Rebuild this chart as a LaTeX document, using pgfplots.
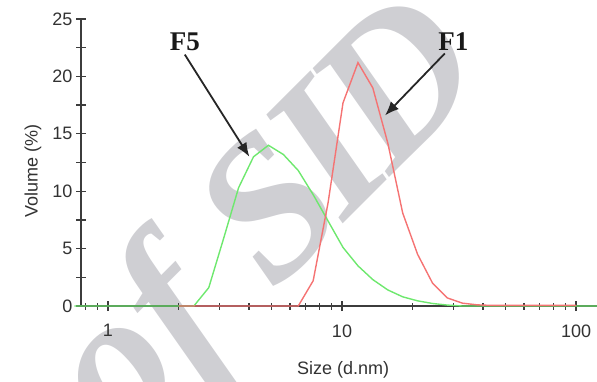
\documentclass[border=0pt]{standalone}
\usepackage{pgfplots}
\pgfplotsset{compat=1.18}
\usepackage{fontspec}
\setmainfont{Liberation Sans}
\newfontfamily\serif{Liberation Serif}
\usetikzlibrary{arrows.meta}
\definecolor{axgray}{RGB}{60,60,60}
\definecolor{txtgray}{RGB}{50,50,50}
\definecolor{wm}{RGB}{207,207,211}
\definecolor{cgreen}{RGB}{110,232,110}
\definecolor{cred}{RGB}{245,115,115}
\begin{document}
\begin{tikzpicture}
\node[text=wm, rotate=45, anchor=base, inner sep=0pt] at (226pt,46pt) {\fontsize{200}{200}\selectfont\serif\bfseries\itshape of S\kern-0.06em I\kern-0.06em D};
\begin{axis}[
  name=ax, at={(0,0)}, anchor=south west,
  scale only axis, width=516pt, height=287pt,
  xmode=log, xmin=0.767, xmax=122.9, ymin=0, ymax=25,
  axis x line=bottom, axis y line=left,
  axis line style={-, draw=axgray, line width=1.5pt},
  clip=false,
  tick align=center,
  major tick length=10pt, minor tick length=7pt,
  every tick/.style={draw=axgray, line width=1.3pt},
  xtick={1,10,100}, xticklabels={1,10,100},
  minor xtick={0.8,0.9,2,3,4,5,6,7,8,9,20,30,40,50,60,70,80,90},
  ytick={0,2.5,5,7.5,10,12.5,15,17.5,20,22.5,25},
  yticklabels={0,,5,,10,,15,,20,,25},
  /pgf/number format/assume math mode=true,
  tick label style={font=\fontsize{18}{18}\selectfont, text=txtgray},
  xticklabel style={yshift=-10pt},
  label style={font=\fontsize{18}{18}\selectfont, text=txtgray},
  xlabel={Size (d.nm)}, ylabel={Volume (\%)},
  xlabel style={at={(axis description cs:0.508,-0.222)}, anchor=center},
  ylabel style={at={(axis description cs:-0.093,0.47)}, anchor=center},
]
\addplot[cgreen, line width=1.4pt] coordinates {
(0.7195,0) (0.8332,0) (0.9649,0) (1.117,0) (1.294,0) (1.499,0) (1.736,0) (2.01,0) (2.328,0)
(2.696,1.6) (3.122,5.9) (3.615,10.3) (4.187,13.0) (4.849,14.0) (5.615,13.2) (6.503,11.8)
(7.531,9.7) (8.721,7.4) (10.10,5.1) (11.70,3.5) (13.54,2.3) (15.69,1.4) (18.17,0.8)
(21.04,0.45) (24.36,0.22) (28.21,0.08) (32.67,0) (37.84,0) (43.82,0) (50.75,0) (58.77,0)
(68.06,0) (78.82,0) (91.28,0) (105.7,0) (122.4,0) (141.8,0)};
\addplot[cred, line width=1.4pt] coordinates {
(2.01,0) (2.328,0) (2.696,0) (3.122,0) (3.615,0) (4.187,0) (4.849,0) (5.615,0) (6.503,0)
(7.531,2.2) (8.721,9.0) (10.10,17.7) (11.70,21.2) (13.54,19.0) (15.69,14.2) (18.17,8.1)
(21.04,4.5) (24.36,2.0) (28.21,0.7) (32.67,0.25) (37.84,0.1) (43.82,0.05) (50.75,0.05)
(58.77,0.05) (68.06,0.05) (78.82,0.05) (91.28,0.05) (100,0.05)};
\draw[draw=black!85, line width=1.8pt, -{Latex[length=14pt,width=11pt]}] (axis cs:2.13,21.9) -- (axis cs:4.02,13.0);
\draw[draw=black!85, line width=1.8pt, -{Latex[length=14pt,width=11pt]}] (axis cs:27.5,22.0) -- (axis cs:15.27,16.6);
\node[font=\fontsize{27}{27}\selectfont\serif\bfseries, text=black!90] at (axis cs:2.13,23.0) {F5};
\node[font=\fontsize{27}{27}\selectfont\serif\bfseries, text=black!90] at (axis cs:29.9,23.0) {F1};
\end{axis}
\pgfresetboundingbox
\path[use as bounding box] (-81pt,-75pt) rectangle (516pt,306pt);
\end{tikzpicture}
\end{document}
